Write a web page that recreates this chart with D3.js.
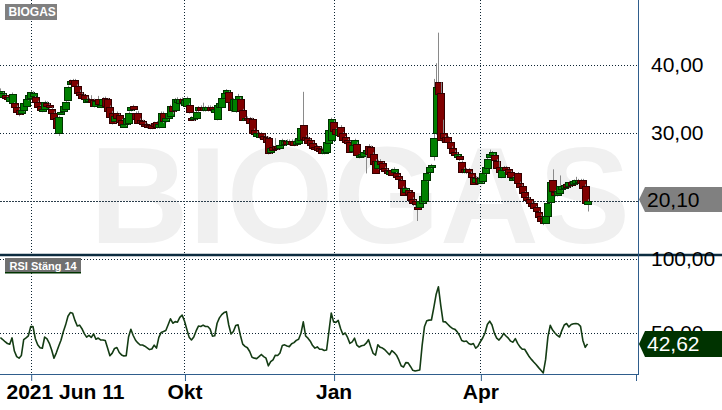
<!DOCTYPE html>
<html><head><meta charset="utf-8">
<script src="https://cdn.jsdelivr.net/npm/d3@7"></script>
<style>
body{margin:0;background:#fff}
svg{display:block;font-family:"Liberation Sans",Arial,sans-serif}
</style>
</head><body>
<svg id="c" width="722" height="410"></svg>
<script>
// ---- data (trading days from 2021-06-11) ----
const opens=[35.6,35.3,35.6,35.3,34.8,34.5,34.4,33.9,33.5,33.0,
33.4,34.0,35.0,35.2,35.5,35.3,34.6,34.0,33.3,33.6,
34.5,34.2,33.6,33.0,32.2,30.0,32.9,33.3,33.6,34.9,
37.3,37.8,37.8,37.0,36.1,35.8,35.6,34.7,34.8,35.0,
34.9,34.1,35.0,33.9,34.1,35.2,35.0,33.9,33.0,31.8,
33.0,32.7,31.9,31.0,31.3,31.5,33.4,34.0,33.0,33.0,
32.0,31.8,31.4,31.3,31.2,31.2,31.5,31.6,30.9,31.0,
33.0,31.8,32.2,32.6,34.0,33.4,34.6,34.4,35.1,34.2,
34.0,34.2,32.3,32.1,32.2,33.3,33.9,33.9,33.4,33.4,
33.9,33.8,33.2,32.1,33.9,33.9,35.2,35.9,36.1,34.6,
33.4,33.2,35.0,35.1,33.4,32.0,32.3,32.2,32.1,30.5,
29.7,29.4,30.0,29.6,29.4,29.3,27.2,28.0,28.2,28.1,
27.8,28.3,28.4,28.9,28.4,28.9,28.9,28.4,28.6,29.1,
31.2,29.5,29.3,29.0,28.6,28.0,28.1,27.8,27.7,27.1,
27.3,28.6,29.0,31.7,30.6,29.8,31.0,30.0,29.4,29.0,
28.7,27.4,28.2,28.5,26.5,26.7,26.6,27.1,28.2,28.0,
27.0,26.0,24.9,26.0,25.6,24.9,24.6,24.0,24.6,24.3,
24.1,23.7,23.1,22.0,21.3,21.6,21.3,20.4,20.0,19.2,
19.2,19.8,20.0,23.1,24.2,25.0,26.6,30.0,37.6,35.9,
30.0,29.5,29.4,28.7,27.9,27.3,26.6,26.6,25.8,24.8,
24.2,24.7,24.2,23.6,22.9,23.4,22.8,22.9,24.1,24.9,
26.6,26.8,26.8,26.0,25.0,23.6,24.5,25.0,24.7,24.3,
23.2,23.1,24.1,22.7,22.3,21.3,20.6,20.4,19.8,19.7,
19.1,18.4,17.9,17.6,16.9,17.9,19.8,23.1,21.4,20.9,
21.3,21.8,22.0,22.6,22.2,22.8,22.6,22.7,22.8,23.1,
23.1,22.3,19.7];
const closes=[36.2,35.9,35.2,35.0,35.4,35.8,33.8,33.2,32.9,33.4,
34.5,35.0,35.6,36.1,36.0,34.5,33.9,33.4,33.6,34.6,
34.0,33.9,33.0,32.1,30.8,32.4,33.2,34.0,34.6,36.8,
37.7,37.3,36.9,36.0,35.6,35.2,35.0,35.1,35.0,34.5,
34.0,34.8,34.3,34.1,35.0,34.0,33.2,32.4,31.6,32.6,
32.3,31.7,31.1,31.4,32.2,33.0,33.8,33.5,32.1,31.6,
31.5,31.4,31.1,30.9,30.9,30.8,31.0,30.9,31.3,33.0,
31.8,32.3,33.0,34.0,33.2,35.0,35.0,35.0,34.6,34.9,
35.2,33.1,32.1,32.4,33.1,33.8,33.5,33.4,33.8,33.9,
33.4,33.5,33.6,34.2,34.5,35.2,35.9,36.3,34.6,33.4,
35.0,35.0,35.5,33.4,32.0,32.2,32.0,31.5,30.0,29.9,
30.1,30.0,29.4,29.2,28.6,27.1,27.8,27.6,27.8,27.8,
28.3,29.0,28.8,28.5,28.9,28.4,28.3,28.8,29.3,30.8,
29.2,29.0,28.6,28.2,27.9,27.7,27.5,27.3,27.1,27.6,
28.7,30.5,32.1,30.4,29.8,30.7,29.7,28.9,28.6,28.5,
27.3,28.3,29.0,26.9,26.8,27.0,27.2,27.6,27.0,26.5,
25.6,24.3,25.9,25.5,24.7,24.5,24.1,24.4,23.9,24.8,
23.5,23.2,21.9,21.0,21.9,21.0,20.1,19.8,19.6,19.0,
20.1,20.8,23.1,24.2,25.0,25.3,29.3,36.8,35.8,29.0,
29.3,28.8,28.7,27.8,27.1,26.8,27.0,26.1,24.3,24.3,
24.7,24.3,23.6,22.6,23.5,22.6,23.5,24.1,25.0,26.2,
27.0,27.2,26.0,25.0,24.2,24.6,25.0,24.6,24.0,23.6,
23.5,23.6,22.7,22.1,21.3,20.6,20.2,19.8,19.3,19.0,
18.5,17.7,17.2,16.8,17.9,19.8,22.8,21.5,20.9,21.5,
22.3,22.2,22.4,22.2,22.8,22.3,23.0,23.1,23.1,22.6,
21.9,19.8,20.1];
const highs=[36.6,36.1,35.8,35.5,35.6,36.0,34.6,34.1,33.7,33.6,
34.7,35.3,35.8,36.3,36.2,35.5,34.8,34.2,33.8,34.8,
34.7,34.4,33.8,33.2,32.4,32.6,33.4,34.2,34.8,37.0,
37.9,38.0,38.0,37.2,36.4,36.0,35.8,35.4,35.2,35.6,
35.1,35.0,35.5,34.3,35.3,35.4,35.2,34.1,33.3,32.8,
33.2,32.9,32.1,31.6,32.4,33.2,34.0,34.2,33.2,33.3,
32.2,32.0,31.6,31.5,31.4,31.4,31.7,31.8,31.5,33.2,
33.2,32.5,33.2,34.2,34.2,35.2,35.3,35.2,35.3,35.1,
35.4,34.4,32.5,32.6,33.3,34.0,34.1,34.5,34.0,34.1,
34.1,34.0,33.8,34.4,34.7,35.4,36.1,36.5,36.3,34.8,
35.2,35.3,35.8,35.3,33.6,32.4,32.5,32.4,32.3,30.7,
30.3,30.2,30.2,29.8,29.6,29.5,28.0,28.2,29.3,28.3,
28.5,29.2,29.0,29.1,29.1,29.1,29.1,29.0,29.5,31.0,
36.1,29.7,29.5,29.2,28.8,28.2,28.3,28.0,27.9,27.8,
28.9,30.7,32.3,31.9,30.8,30.9,31.2,30.2,29.6,29.2,
28.9,28.5,29.2,28.7,27.0,27.2,27.4,27.8,28.4,28.2,
27.2,26.2,26.1,26.2,25.8,25.1,24.8,24.6,24.8,25.0,
24.3,23.9,23.3,22.2,22.1,21.8,21.5,20.6,20.2,19.4,
20.3,21.0,23.3,24.4,25.2,25.5,38.0,40.3,44.8,37.5,
32.0,29.7,29.6,28.9,28.1,27.5,27.2,26.8,26.0,25.0,
24.9,24.9,24.4,23.8,23.7,23.6,23.7,24.3,25.2,26.4,
27.6,27.4,27.0,26.2,25.9,24.8,25.2,25.2,24.9,24.5,
23.7,23.8,24.3,22.9,22.5,21.5,20.8,20.6,20.0,19.9,
19.3,18.6,18.1,17.8,18.1,20.0,23.0,24.7,21.6,21.7,
23.8,22.4,22.6,22.8,23.0,23.0,23.2,23.6,23.3,23.3,
23.3,22.5,20.3];
const lows=[35.4,35.1,34.9,34.8,34.6,34.4,33.6,32.9,32.5,32.8,
33.2,33.9,34.8,35.0,35.3,34.3,33.7,33.2,33.1,33.4,
33.8,33.6,32.8,31.8,30.5,29.6,32.7,33.1,33.4,34.7,
37.1,37.1,36.6,35.7,35.4,35.0,34.8,34.5,34.6,34.3,
33.8,33.9,34.1,33.7,33.9,33.8,33.0,32.1,31.3,31.6,
32.0,31.4,30.8,30.8,31.1,31.3,33.2,33.3,31.8,31.4,
31.2,31.1,30.9,30.7,30.6,30.6,30.8,30.7,30.7,30.8,
31.5,31.6,32.0,32.4,32.8,33.2,34.4,34.2,34.4,34.0,
33.8,32.9,31.8,31.8,32.0,33.1,33.3,33.2,33.2,33.2,
33.2,33.3,33.0,31.9,33.7,33.7,35.0,35.7,34.4,33.1,
33.2,33.0,34.8,33.2,31.8,31.8,31.8,31.3,29.8,29.7,
29.5,29.2,29.2,29.0,28.4,26.9,27.0,27.4,27.6,27.6,
27.6,28.1,28.2,28.3,28.2,28.2,28.1,28.2,28.4,28.9,
29.0,28.8,28.4,28.0,27.7,27.5,27.3,27.1,26.9,26.9,
27.1,28.4,28.8,30.2,29.6,29.6,29.5,28.7,28.4,28.3,
27.1,27.2,28.0,26.7,26.3,26.5,26.4,24.1,26.8,26.3,
25.4,24.1,24.7,24.8,24.5,24.3,23.9,23.8,23.7,24.1,
23.3,23.0,21.7,20.8,21.1,20.8,19.9,19.3,19.2,17.1,
19.0,19.6,19.8,22.9,24.0,24.8,26.0,29.8,35.5,28.8,
29.1,28.6,28.5,27.6,26.9,26.6,26.4,25.9,24.1,24.1,
24.0,24.1,23.4,22.4,22.7,22.4,22.6,22.7,23.9,24.7,
26.4,26.6,25.8,24.8,24.0,23.4,24.3,24.4,23.8,23.4,
23.0,22.9,22.5,21.9,21.1,20.4,20.0,19.6,19.1,18.8,
18.3,17.5,17.0,16.5,16.7,17.7,19.6,21.3,20.7,20.7,
21.1,21.6,21.8,22.0,22.0,22.1,22.4,22.5,22.6,22.4,
21.7,19.6,18.5];
const rsi=[46.9,45.6,44.1,42.9,42.4,46.7,37.8,34.0,33.0,34.8,
45.5,46.7,48.1,54.3,54.3,46.1,42.1,40.1,39.7,47.3,
46.0,43.0,38.5,33.0,36.6,41.1,45.1,50.9,55.5,61.3,
63.8,63.4,58.5,54.7,55.3,52.9,49.6,47.2,48.4,47.0,
49.4,45.8,46.6,45.3,45.3,44.9,39.8,34.6,36.4,39.6,
40.2,36.8,35.2,34.5,34.7,47.3,52.5,48.3,45.1,43.3,
41.9,41.9,41.1,40.0,38.8,39.2,41.8,39.8,47.0,50.4,
51.0,51.7,55.6,59.6,56.6,57.7,57.3,60.6,62.1,58.1,
52.5,47.2,45.3,47.3,51.4,54.7,54.4,55.3,54.4,54.4,
52.7,47.9,48.1,56.6,60.2,62.4,63.8,64.4,55.4,49.3,
51.0,55.0,55.5,48.5,42.5,41.0,40.0,37.5,33.6,33.0,
32.7,34.0,35.5,34.0,33.0,27.8,30.6,31.9,35.0,34.8,
36.5,41.5,42.0,41.2,40.8,42.7,43.5,45.0,45.8,49.8,
57.5,48.0,46.5,44.5,41.5,39.8,40.6,39.0,39.0,38.2,
38.5,51.0,63.5,57.5,57.2,58.5,53.0,49.0,50.0,47.0,
43.0,44.0,46.5,41.8,40.5,41.4,41.7,43.1,45.5,40.6,
36.2,35.1,42.1,40.3,39.8,38.7,37.0,35.3,38.1,36.8,
35.0,31.8,27.9,26.9,30.0,29.8,27.4,24.8,24.3,24.7,
25.0,41.5,54.2,58.3,58.7,58.8,67.0,76.0,81.2,68.6,
57.7,57.5,55.9,54.3,53.1,52.6,50.9,48.5,44.9,44.3,
44.6,42.9,42.2,42.9,39.7,41.1,44.1,46.6,50.0,55.8,
58.0,55.4,49.9,46.5,45.2,47.1,49.7,48.0,46.5,44.5,
43.8,46.2,43.0,40.6,39.0,39.0,36.5,33.9,32.0,30.2,
28.5,26.6,24.8,23.0,32.0,47.5,55.2,52.0,50.0,48.4,
47.3,51.8,55.4,56.4,54.1,55.7,56.3,56.4,56.1,54.5,
45.0,40.3,42.62];
const xTickIdx=[13,79,143,206];
const xTickLabels=["2021 Jun 11","Okt","Jan","Apr"];
const priceTicks=[40,30,20];
const rsiTicks=[100,50];
const lastPrice=20.10;
const lastRsi=42.62;
const title="BIOGAS";
const rsiTitle="RSI Stäng 14";

// ---- layout ----
const svg=d3.select("#c");
const plotR=638, mainBottom=255, rsiBottom=374;
const x=d3.scaleLinear().domain([0,272.8]).range([0.4,636]);
const y=d3.scaleLinear().domain([30,40]).range([133.3,65.3]);
const yr=d3.scaleLinear().domain([50,100]).range([333,259]);
const loc=d3.formatLocale({decimal:",",thousands:" ",grouping:[3],currency:["",""]});
const fmt=loc.format(".2f");
const gridCol="#0d2433";
const blue="#2f5d8c";
const priceTagY=y(lastPrice)-1.2, rsiTagY=yr(lastRsi);

svg.append("rect").attr("width",722).attr("height",410).attr("fill","#fff");
const defs=svg.append("defs");
// region above the RSI value tag: the 50,00 label is only visible above it
defs.append("clipPath").attr("id","aboveRsiTag").append("rect")
  .attr("x",640).attr("y",0).attr("width",82).attr("height",rsiTagY-13);

// watermark
svg.append("text").attr("x",360).attr("y",243).attr("text-anchor","middle")
  .style("font-size","137px").style("font-weight","bold").attr("fill","#f0f0f0").text(title);

// gridlines
const g=svg.append("g");
g.selectAll(".hp").data(priceTicks).join("line")
  .attr("x1",0).attr("x2",plotR).attr("y1",d=>Math.round(y(d))+0.5).attr("y2",d=>Math.round(y(d))+0.5)
  .attr("stroke",gridCol).attr("stroke-dasharray","1,2");
g.selectAll(".hr").data(rsiTicks).join("line")
  .attr("x1",0).attr("x2",plotR).attr("y1",d=>Math.round(yr(d))+0.5).attr("y2",d=>Math.round(yr(d))+0.5)
  .attr("stroke",gridCol).attr("stroke-dasharray","1,2");
g.selectAll(".v").data(xTickIdx).join("line")
  .attr("x1",d=>Math.round(x(d))+0.5).attr("x2",d=>Math.round(x(d))+0.5).attr("y1",0).attr("y2",rsiBottom)
  .attr("stroke",gridCol).attr("stroke-dasharray","1,2");

// last price line
svg.append("line").attr("x1",0).attr("x2",plotR)
  .attr("y1",Math.round(y(lastPrice))+0.5).attr("y2",Math.round(y(lastPrice))+0.5)
  .attr("stroke","#2c3e4c").attr("stroke-dasharray","2,1");

// candles
const cg=svg.append("g");
const bw=7;
opens.forEach((o,i)=>{
  const c=closes[i], up=c>=o;
  const cx=Math.round(x(i))+0.5;
  cg.append("line").attr("x1",cx).attr("x2",cx).attr("y1",y(highs[i])).attr("y2",y(lows[i]))
    .attr("stroke","#8a8a8a").attr("stroke-width",1);
  const top=y(Math.max(o,c)), bot=y(Math.min(o,c));
  cg.append("rect").attr("x",Math.round(x(i)-bw/2)+0.5).attr("y",Math.round(top)+0.5)
    .attr("width",bw).attr("height",Math.max(2,Math.round(bot-top)))
    .attr("fill",up?"#008000":"#800000").attr("stroke",up?"#003300":"#330000").attr("stroke-width",1);
});

// RSI line
svg.append("path").datum(rsi)
  .attr("d",d3.line().x((d,i)=>x(i)).y(d=>yr(d)))
  .attr("fill","none").attr("stroke","#143c14").attr("stroke-width",1.6).attr("stroke-linejoin","round");

// panel separator and borders
svg.append("line").attr("x1",0).attr("x2",722).attr("y1",mainBottom).attr("y2",mainBottom)
  .attr("stroke","#0c2c40").attr("stroke-width",2.5);
svg.append("line").attr("x1",plotR+0.5).attr("x2",plotR+0.5).attr("y1",0).attr("y2",rsiBottom)
  .attr("stroke",blue).attr("stroke-width",1);
svg.append("line").attr("x1",0).attr("x2",plotR+1).attr("y1",rsiBottom+0.5).attr("y2",rsiBottom+0.5)
  .attr("stroke",blue).attr("stroke-width",1);
svg.append("line").attr("x1",636.5).attr("x2",636.5).attr("y1",rsiBottom).attr("y2",rsiBottom+7)
  .attr("stroke",blue);

// x axis
const xa=svg.append("g").attr("transform",`translate(0,${rsiBottom})`)
  .call(d3.axisBottom(x).tickValues(xTickIdx).tickFormat((d,i)=>xTickLabels[i]).tickSize(7).tickPadding(3));
xa.select(".domain").remove();
xa.selectAll(".tick line").attr("stroke",blue).attr("transform","translate(0.5,0)");
xa.selectAll("text").attr("fill","#000").style("font-size","21px").style("font-weight","bold")
  .style("font-family","'Liberation Sans',Arial,sans-serif");
xa.selectAll(".tick text").filter((d,i)=>i===0).attr("text-anchor","start").attr("x",6-x(xTickIdx[0]));

// price axis (labels hidden behind the last-price tag are not drawn)
const shownPrice=priceTicks.filter(t=>Math.abs(y(t)-priceTagY)>14);
const pa=svg.append("g").attr("transform","translate(651,0)")
  .call(d3.axisRight(y).tickValues(shownPrice).tickFormat(fmt).tickSize(0).tickPadding(0));
pa.select(".domain").remove();
pa.selectAll("text").attr("fill","#000").attr("dy","0.3em").style("font-size","21px")
  .style("font-family","'Liberation Sans',Arial,sans-serif");
// RSI axis, clipped to the area above the RSI value tag (as in the original, 50,00 peeks out)
const raWrap=svg.append("g").attr("clip-path","url(#aboveRsiTag)");
const ra=raWrap.append("g").attr("transform","translate(651,0)")
  .call(d3.axisRight(yr).tickValues(rsiTicks).tickFormat(fmt).tickSize(0).tickPadding(0));
ra.select(".domain").remove();
ra.selectAll("text").attr("fill","#000").attr("dy","0.3em").style("font-size","21px")
  .style("font-family","'Liberation Sans',Arial,sans-serif");

// value tags
function tag(yc,fill,txtCol,label,h){
  const t=yc-h/2,b=yc+h/2;
  svg.append("path").attr("d",`M639,${yc} L645,${t} L722,${t} L722,${b} L645,${b} Z`).attr("fill",fill);
  svg.append("text").attr("x",647).attr("y",yc+7.5).attr("fill",txtCol)
    .style("font-size","21px").text(label);
}
tag(priceTagY,"#808080","#000",fmt(lastPrice),25);
tag(rsiTagY,"#003300","#fff",fmt(lastRsi),26);

// panel titles
svg.append("rect").attr("x",5).attr("y",4).attr("width",52).attr("height",16).attr("fill","#808080");
svg.append("text").attr("x",8.5).attr("y",16.3).attr("fill","#fff").style("font-size","12px")
  .style("font-weight","bold").text(title);
svg.append("rect").attr("x",5).attr("y",258).attr("width",76).attr("height",15).attr("fill","#707070");
svg.append("rect").attr("x",5).attr("y",272).attr("width",76).attr("height",1.5).attr("fill","#003300");
svg.append("text").attr("x",9.5).attr("y",269.5).attr("fill","#fff").style("font-size","11px")
  .style("font-weight","bold").text(rsiTitle);
</script>
</body></html>
